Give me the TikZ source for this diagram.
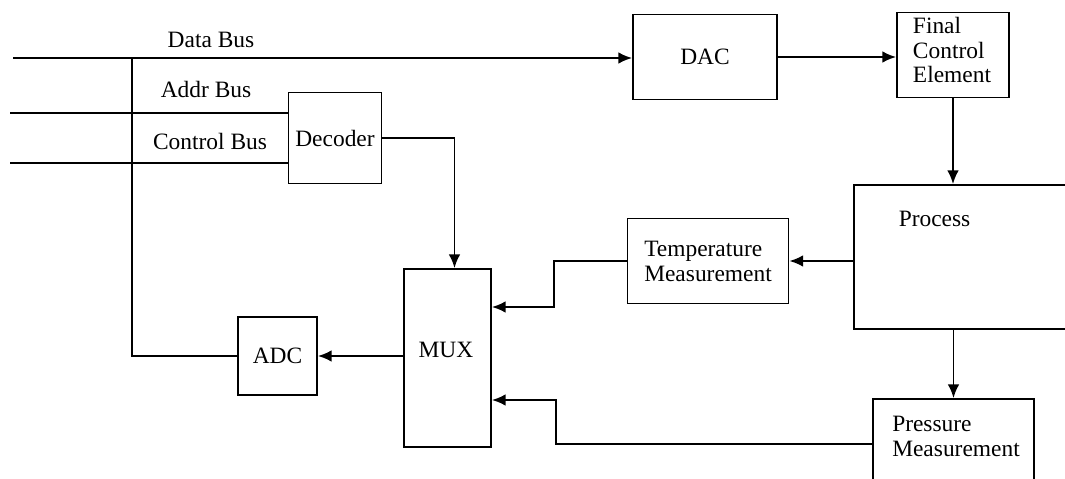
\documentclass[tikz,border=0pt,12pt]{standalone}
\usepackage{fontspec}
\setmainfont{Liberation Serif}
\usetikzlibrary{arrows.meta}
\newlength\pxl
\setlength\pxl{0.018cm}
\begin{document}
\begin{tikzpicture}[x=0.018cm,y=-0.018cm,line width=1pt,
  font=\fontsize{12}{12.8}\selectfont,
  blk/.style={draw,inner sep=0pt},
  arr/.style={-{Latex[length=7pt,width=6pt]}}]
\useasboundingbox (0,0) rectangle (1065,479);
\clip (0,0) rectangle (1065,479);

\node[blk,minimum width=144\pxl,minimum height=85\pxl] (dac) at (705,57) {DAC};
\node[blk,minimum width=112\pxl,minimum height=85\pxl] (fce) at (953,55) {};
\node[align=left] (fcelbl) at (952,50) {Final\\Control\\Element};
\node[blk,minimum width=93\pxl,minimum height=91\pxl] (dec) at (335,138) {Decoder};
\node[blk,minimum width=161\pxl,minimum height=85\pxl,align=left] (temp) at (708,261) {Temperature\\Measurement};
\node[blk,minimum width=87\pxl,minimum height=178\pxl] (mux) at (447.5,358) {};
\node (muxlbl) at (446,350) {MUX};
\node[blk,minimum width=79\pxl,minimum height=78\pxl] (adc) at (277.5,356) {ADC};
\node[blk,minimum width=246\pxl,minimum height=144\pxl] (proc) at (977,257) {};
\node[anchor=west] (proclbl) at (890,219) {Process};
\node[blk,minimum width=161\pxl,minimum height=90\pxl] (press) at (953.5,444) {};
\node[align=left] (presslbl) at (956,436.5) {Pressure\\Measurement};

\node (dblbl) at (211,40) {Data Bus};
\node (ablbl) at (206,89) {Addr Bus};
\node (cblbl) at (210,141) {Control Bus};

\coordinate (dbus) at (13,58);
\coordinate (abus) at (10,113);
\coordinate (cbus) at (10,163);
\coordinate (tap) at (132,58);

\draw[arr] (dbus) -- (dbus -| dac.west);
\draw (abus) -- (abus -| dec.west);
\draw (cbus) -- (cbus -| dec.west);
\draw (tap) |- (adc.west);

\draw[arr] (dac.east) -- (dac.east -| fce.west);
\draw[arr] (fce.south) -- (fce.south |- proc.north);
\draw[arr] (dec.east) -| ([xshift=7\pxl]mux.north);
\draw[arr] (mux.west |- adc.east) -- (adc.east);
\draw[arr] (proc.west |- temp.east) -- (temp.east);
\draw[arr] (temp.west) -- ++(-73,0) |- (mux.east |- 0,307);
\draw[arr] (press.north |- proc.south) -- (press.north);
\draw[arr] (press.west) -- ++(-316,0) |- (mux.east |- 0,400);
\end{tikzpicture}
\end{document}
